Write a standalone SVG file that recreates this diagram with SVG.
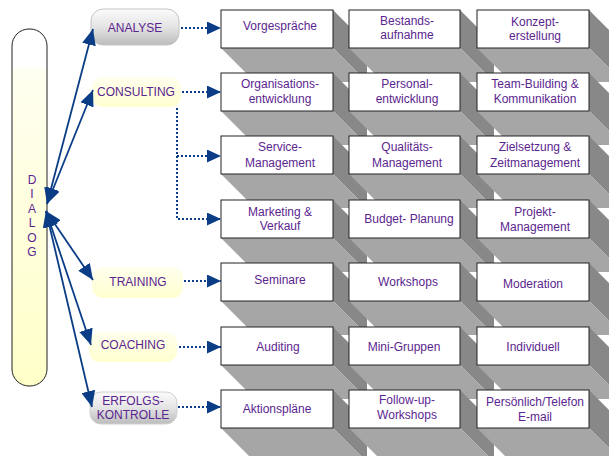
<svg xmlns="http://www.w3.org/2000/svg" width="609" height="456" viewBox="0 0 609 456">
<defs>
<style>
.t{font-family:"Liberation Sans",Arial,sans-serif;font-size:12px;fill:#5b2590;text-anchor:middle}
.fr{fill:#fff;stroke:#222;stroke-width:1}
.rf{fill:#888}
.bf{fill:#a6a6a6}
.ml{stroke:#0b3d86;stroke-width:1.8;fill:none}
.dl{stroke:#0b3d86;stroke-width:2;stroke-dasharray:2 2;fill:none}
</style>
<linearGradient id="gg" x1="0" y1="0" x2="0" y2="1">
<stop offset="0" stop-color="#fbfbfb"/><stop offset="0.5" stop-color="#e4e4e4"/><stop offset="1" stop-color="#bcbcbc"/>
</linearGradient>
<linearGradient id="yg" x1="0" y1="0" x2="0" y2="1">
<stop offset="0" stop-color="#ffffee"/><stop offset="1" stop-color="#ffffcf"/>
</linearGradient>
<linearGradient id="dg" x1="0" y1="0" x2="0" y2="1">
<stop offset="0" stop-color="#ffffff"/><stop offset="0.1" stop-color="#ffffff"/><stop offset="0.12" stop-color="#fffff0"/><stop offset="1" stop-color="#ffffc8"/>
</linearGradient>
<marker id="ah" viewBox="0 0 16 14" refX="16" refY="7" markerWidth="16" markerHeight="14" markerUnits="userSpaceOnUse" orient="auto-start-reverse"><path d="M0,0 L16,7 L0,14 Z" fill="#0b3d86"/></marker>
<marker id="dh" viewBox="0 0 14 13" refX="14" refY="6.5" markerWidth="14" markerHeight="13" markerUnits="userSpaceOnUse" orient="auto"><path d="M0,0 L14,6.5 L0,13 Z" fill="#0b3d86"/></marker>
</defs>
<rect width="609" height="456" fill="#fff"/>

<g id="boxes">
<!-- row 1 -->
<g id="b11"><path class="rf" d="M333,10 L367,44 L367,82 L333,48 Z"/><path class="bf" d="M221,48 L333,48 L367,82 L255,82 Z"/><rect class="fr" x="221" y="10" width="112" height="38"/><text class="t" x="280" y="30">Vorgespräche</text></g>
<g id="b12"><path class="rf" d="M460,10 L494,44 L494,82 L460,48 Z"/><path class="bf" d="M349,48 L460,48 L494,82 L383,82 Z"/><rect class="fr" x="349" y="10" width="111" height="38"/><text class="t" x="407" y="25">Bestands-</text><text class="t" x="407" y="39">aufnahme</text></g>
<g id="b13"><path class="rf" d="M589,10 L623,44 L623,82 L589,48 Z"/><path class="bf" d="M477,48 L589,48 L623,82 L511,82 Z"/><rect class="fr" x="477" y="10" width="112" height="38"/><text class="t" x="535" y="26">Konzept-</text><text class="t" x="535" y="40">erstellung</text></g>
<!-- row 2 -->
<g id="b21"><path class="rf" d="M333,73 L367,107 L367,145 L333,111 Z"/><path class="bf" d="M221,111 L333,111 L367,145 L255,145 Z"/><rect class="fr" x="221" y="73" width="112" height="38"/><text class="t" x="280" y="88">Organisations-</text><text class="t" x="280" y="103">entwicklung</text></g>
<g id="b22"><path class="rf" d="M460,73 L494,107 L494,145 L460,111 Z"/><path class="bf" d="M349,111 L460,111 L494,145 L383,145 Z"/><rect class="fr" x="349" y="73" width="111" height="38"/><text class="t" x="407" y="88">Personal-</text><text class="t" x="407" y="103">entwicklung</text></g>
<g id="b23"><path class="rf" d="M589,73 L623,107 L623,145 L589,111 Z"/><path class="bf" d="M477,111 L589,111 L623,145 L511,145 Z"/><rect class="fr" x="477" y="73" width="112" height="38"/><text class="t" x="535" y="88">Team-Building &amp;</text><text class="t" x="535" y="103">Kommunikation</text></g>
<!-- row 3 -->
<g id="b31"><path class="rf" d="M333,136 L367,170 L367,208 L333,174 Z"/><path class="bf" d="M221,174 L333,174 L367,208 L255,208 Z"/><rect class="fr" x="221" y="136" width="112" height="38"/><text class="t" x="280" y="151">Service-</text><text class="t" x="280" y="167">Management</text></g>
<g id="b32"><path class="rf" d="M460,136 L494,170 L494,208 L460,174 Z"/><path class="bf" d="M349,174 L460,174 L494,208 L383,208 Z"/><rect class="fr" x="349" y="136" width="111" height="38"/><text class="t" x="407" y="151">Qualitäts-</text><text class="t" x="407" y="167">Management</text></g>
<g id="b33"><path class="rf" d="M589,136 L623,170 L623,208 L589,174 Z"/><path class="bf" d="M477,174 L589,174 L623,208 L511,208 Z"/><rect class="fr" x="477" y="136" width="112" height="38"/><text class="t" x="535" y="151">Zielsetzung &amp;</text><text class="t" x="535" y="167">Zeitmanagement</text></g>
<!-- row 4 -->
<g id="b41"><path class="rf" d="M333,200 L367,234 L367,272 L333,238 Z"/><path class="bf" d="M221,238 L333,238 L367,272 L255,272 Z"/><rect class="fr" x="221" y="200" width="112" height="38"/><text class="t" x="280" y="216">Marketing &amp;</text><text class="t" x="280" y="230">Verkauf</text></g>
<g id="b42"><path class="rf" d="M460,200 L494,234 L494,272 L460,238 Z"/><path class="bf" d="M349,238 L460,238 L494,272 L383,272 Z"/><rect class="fr" x="349" y="200" width="111" height="38"/><text class="t" x="409" y="223">Budget- Planung</text></g>
<g id="b43"><path class="rf" d="M589,200 L623,234 L623,272 L589,238 Z"/><path class="bf" d="M477,238 L589,238 L623,272 L511,272 Z"/><rect class="fr" x="477" y="200" width="112" height="38"/><text class="t" x="535" y="216">Projekt-</text><text class="t" x="535" y="231">Management</text></g>
<!-- row 5 -->
<g id="b51"><path class="rf" d="M333,263 L367,297 L367,335 L333,301 Z"/><path class="bf" d="M221,301 L333,301 L367,335 L255,335 Z"/><rect class="fr" x="221" y="263" width="112" height="38"/><text class="t" x="280" y="284">Seminare</text></g>
<g id="b52"><path class="rf" d="M460,263 L494,297 L494,335 L460,301 Z"/><path class="bf" d="M349,301 L460,301 L494,335 L383,335 Z"/><rect class="fr" x="349" y="263" width="111" height="38"/><text class="t" x="408" y="286">Workshops</text></g>
<g id="b53"><path class="rf" d="M589,263 L623,297 L623,335 L589,301 Z"/><path class="bf" d="M477,301 L589,301 L623,335 L511,335 Z"/><rect class="fr" x="477" y="263" width="112" height="38"/><text class="t" x="533" y="288">Moderation</text></g>
<!-- row 6 -->
<g id="b61"><path class="rf" d="M333,327 L367,361 L367,399 L333,365 Z"/><path class="bf" d="M221,365 L333,365 L367,399 L255,399 Z"/><rect class="fr" x="221" y="327" width="112" height="38"/><text class="t" x="278" y="351">Auditing</text></g>
<g id="b62"><path class="rf" d="M460,327 L494,361 L494,399 L460,365 Z"/><path class="bf" d="M349,365 L460,365 L494,399 L383,399 Z"/><rect class="fr" x="349" y="327" width="111" height="38"/><text class="t" x="404" y="351">Mini-Gruppen</text></g>
<g id="b63"><path class="rf" d="M589,327 L623,361 L623,399 L589,365 Z"/><path class="bf" d="M477,365 L589,365 L623,399 L511,399 Z"/><rect class="fr" x="477" y="327" width="112" height="38"/><text class="t" x="533" y="351">Individuell</text></g>
<!-- row 7 -->
<g id="b71"><path class="rf" d="M333,390 L367,424 L367,462 L333,428 Z"/><path class="bf" d="M221,428 L333,428 L367,462 L255,462 Z"/><rect class="fr" x="221" y="390" width="112" height="38"/><text class="t" x="277" y="413">Aktionspläne</text></g>
<g id="b72"><path class="rf" d="M460,390 L494,424 L494,462 L460,428 Z"/><path class="bf" d="M349,428 L460,428 L494,462 L383,462 Z"/><rect class="fr" x="349" y="390" width="111" height="38"/><text class="t" x="407" y="404">Follow-up-</text><text class="t" x="407" y="419">Workshops</text></g>
<g id="b73"><path class="rf" d="M589,390 L623,424 L623,462 L589,428 Z"/><path class="bf" d="M477,428 L589,428 L623,462 L511,462 Z"/><rect class="fr" x="477" y="390" width="112" height="38"/><text class="t" x="535" y="406">Persönlich/Telefon</text><text class="t" x="535" y="421">E-mail</text></g>
</g>

<g id="dialog">
<rect x="12" y="29" width="35" height="357" rx="17" ry="17" fill="url(#dg)" stroke="#222" stroke-width="1"/>
<text class="t" x="32" y="184">D</text><text class="t" x="32" y="198">I</text><text class="t" x="32" y="213">A</text><text class="t" x="32" y="227">L</text><text class="t" x="32" y="242">O</text><text class="t" x="32" y="256">G</text>
</g>

<g id="analyse"><rect x="91" y="9" width="88" height="36" rx="12" fill="url(#gg)" stroke="#c4c4c4"/><text class="t" x="135" y="32">ANALYSE</text></g>
<g id="consulting"><rect x="92" y="77" width="89" height="30" rx="11" fill="url(#yg)"/><text class="t" x="136" y="96">CONSULTING</text></g>
<g id="training"><rect x="92" y="267" width="91" height="31" rx="11" fill="url(#yg)"/><text class="t" x="138" y="286">TRAINING</text></g>
<g id="coaching"><rect x="89" y="332" width="88" height="30" rx="11" fill="url(#yg)"/><text class="t" x="133" y="349">COACHING</text></g>
<g id="erfolgs"><rect x="90" y="392" width="87" height="32" rx="11" fill="url(#gg)" stroke="#d0d0d0"/><text class="t" x="133" y="405">ERFOLGS-</text><text class="t" x="133" y="419">KONTROLLE</text></g>

<g id="connectors">
<path class="ml" d="M47,204 L93,29" marker-start="url(#ah)" marker-end="url(#ah)"/>
<path class="ml" d="M47,204 L93,90" marker-start="url(#ah)" marker-end="url(#ah)"/>
<path class="ml" d="M46,211 L93,280" marker-start="url(#ah)" marker-end="url(#ah)"/>
<path class="ml" d="M46,211 L91,345" marker-start="url(#ah)" marker-end="url(#ah)"/>
<path class="ml" d="M46,211 L92,407" marker-start="url(#ah)" marker-end="url(#ah)"/>
<path class="dl" d="M181,28 H221" marker-end="url(#dh)"/>
<path class="dl" d="M182,92 H221" marker-end="url(#dh)"/>
<path class="dl" d="M177,108 V219 H221" marker-end="url(#dh)"/>
<path class="dl" d="M177,156 H221" marker-end="url(#dh)"/>
<path class="dl" d="M184,281 H221" marker-end="url(#dh)"/>
<path class="dl" d="M179,347 H221" marker-end="url(#dh)"/>
<path class="dl" d="M178,407 H221" marker-end="url(#dh)"/>
</g>
</svg>
